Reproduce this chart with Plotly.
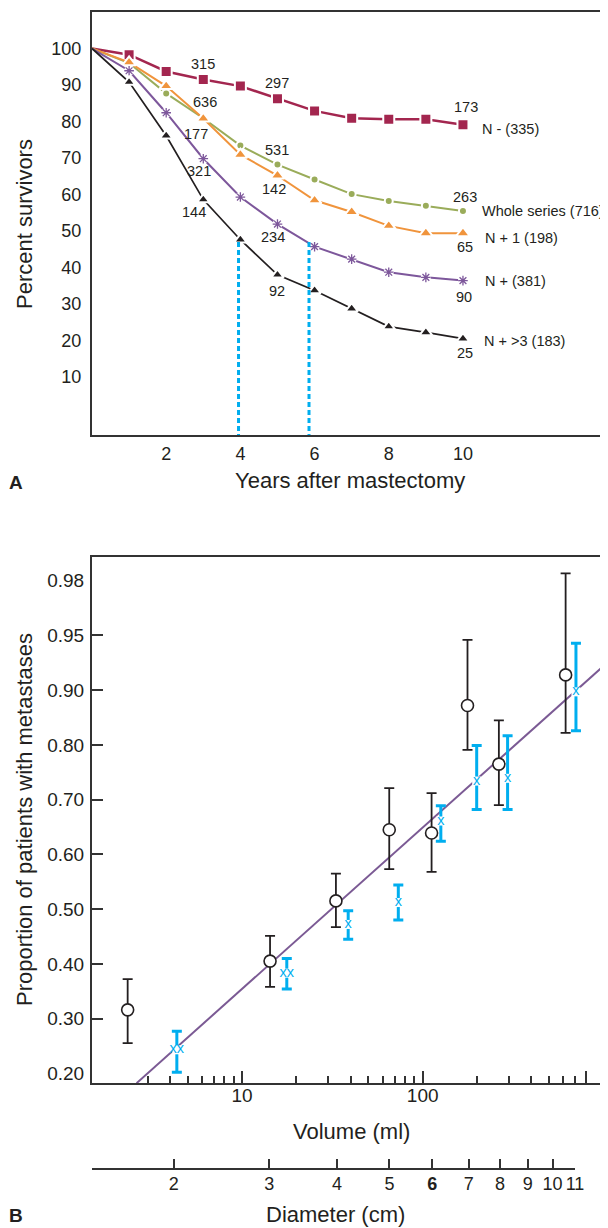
import numpy as np
import plotly.graph_objects as go

FONT = "Liberation Sans, Arial, Helvetica, sans-serif"
INK = "#231f20"
AXIS = "#333333"
CYAN = "#00aeef"

# ---------------- A: survival after mastectomy ----------------
years = [0, 1, 2, 3, 4, 5, 6, 7, 8, 9, 10]
n_neg = [100, 98.3, 93.7, 91.5, 89.7, 86.2, 82.9, 80.9, 80.6, 80.6, 79.1]
whole = [100, 96.0, 87.7, 80.9, 73.4, 68.2, 64.1, 60.1, 58.2, 56.9, 55.5]
n_pos1 = [100, 96.2, 89.7, 80.8, 70.9, 65.2, 58.4, 55.2, 51.4, 49.4, 49.4]
n_pos = [100, 93.9, 82.4, 69.8, 59.3, 51.9, 45.7, 42.3, 38.7, 37.3, 36.4]
n_pos3 = [100, 90.8, 76.1, 58.6, 47.6, 38.0, 33.7, 28.7, 23.8, 22.2, 20.5]

# patients still at risk, shown at years 3, 5 and 10
risk_years = [3, 5, 10]
n_neg_risk = [315, 297, 173]
whole_risk = [636, 531, 263]
n_pos1_risk = [177, 142, 65]
n_pos_risk = [321, 234, 90]
n_pos3_risk = [144, 92, 25]

series_labels = ["N - (335)", "Whole series (716)", "N + 1 (198)", "N + (381)", "N + >3 (183)"]
median_years = [3.95, 5.85]
median_level = 47
y_ticks_a = [10, 20, 30, 40, 50, 60, 70, 80, 90, 100]
x_ticks_a = [2, 4, 6, 8, 10]

# ---------------- B: metastases vs tumour size ----------------
volume_obs = [2.33, 14.3, 33.1, 65.3, 112, 177, 264, 618]
prop_obs = [0.316, 0.405, 0.515, 0.645, 0.639, 0.872, 0.765, 0.914]
prop_obs_hi = [0.372, 0.451, 0.565, 0.721, 0.712, 0.946, 0.845, 0.984]
prop_obs_lo = [0.255, 0.358, 0.467, 0.573, 0.568, 0.791, 0.690, 0.822]

volume_pred = [4.36, 17.7, 38.7, 73.3, 126, 199, 295, 705]
prop_pred = [0.243, 0.383, 0.472, 0.512, 0.661, 0.734, 0.739, 0.897]
prop_pred_hi = [0.277, 0.410, 0.497, 0.544, 0.689, 0.799, 0.817, 0.943]
prop_pred_lo = [0.202, 0.354, 0.445, 0.480, 0.624, 0.682, 0.682, 0.826]
pred_marks = ["xx", "xx", "x", "x", "x", "x", "x", "x"]

fit_volume = [2.61, 1064]
fit_prop = [0.182, 0.926]

prop_ticks = [0.20, 0.30, 0.40, 0.50, 0.60, 0.70, 0.80, 0.90, 0.95, 0.98]
prop_tick_text = ["0.20", "0.30", "0.40", "0.50", "0.60", "0.70", "0.80", "0.90", "0.95", "0.98"]
volume_ticks = [10, 100, 800]
volume_tick_text = ["10", "100", ""]
volume_minor = [3, 4, 5, 6, 7, 8, 9, 20, 30, 40, 50, 60, 70, 80, 90, 200, 300, 400, 500, 600, 700]
diameter_cm = [2, 3, 4, 5, 6, 7, 8, 9, 10, 11]


def prob_pos(p):
    # the proportion axis is drawn with evenly spaced labelled values
    p = np.asarray(p, dtype=float)
    idx = np.arange(len(prop_ticks), dtype=float)
    pos = np.interp(p, prop_ticks, idx)
    lo = p < prop_ticks[0]
    pos[lo] = (p[lo] - prop_ticks[0]) / (prop_ticks[1] - prop_ticks[0])
    hi = p > prop_ticks[-1]
    pos[hi] = idx[-1] + (p[hi] - prop_ticks[-1]) / (prop_ticks[-1] - prop_ticks[-2])
    return pos


# the page body keeps its default 8px margin, so the figure is 8px smaller
OFF = 8
W, H = 608 - OFF, 1228 - OFF


def py(pix):
    return 1 - (pix - OFF) / H


def px(pix):
    return (pix - 92) / 516.0


fig = go.Figure()

# --- panel A ---
styles = [
    (n_neg, "#a3264f", "square", 11, 2.5, n_neg_risk, [(0, 16), (0, 16), (3, 18)], (17, -4)),
    (whole, "#9aac5a", "circle", 8, 2.0, whole_risk, [(2, 16), (0, 15), (2, 14)], (17, 0)),
    (n_pos1, "#f0943c", "triangle-up", 12, 2.0, n_pos1_risk, [(-7, -15), (-3, -13), (2, -14)], (20, -5)),
    (n_pos, "#7d579b", "asterisk-open", 8, 2.0, n_pos_risk, [(-4, -12), (-4, -13), (1, -16)], (20, 0)),
    (n_pos3, INK, "triangle-up", 11, 1.7, n_pos3_risk, [(-9, -12), (0, -16), (2, -14)], (19, -2)),
]

for (vals, col, sym, size, lw, risk, offs, lab_off), name in zip(styles, series_labels):
    op = [0] + [1] * (len(years) - 1)
    if sym == "asterisk-open":
        fig.add_trace(go.Scatter(
            x=years, y=vals, mode="lines+markers", line=dict(color=col, width=lw),
            marker=dict(symbol="circle", size=10, color="white", opacity=op),
            showlegend=False, hoverinfo="skip"))
        fig.add_trace(go.Scatter(
            x=years, y=vals, mode="markers",
            marker=dict(symbol=sym, size=size, color=col, opacity=op,
                        line=dict(color=col, width=1.3)),
            showlegend=False, hoverinfo="skip"))
    else:
        fig.add_trace(go.Scatter(
            x=years, y=vals, mode="lines+markers", line=dict(color=col, width=lw),
            marker=dict(symbol=sym, size=size, color=col, opacity=op,
                        line=dict(color="white", width=2)),
            showlegend=False, hoverinfo="skip"))
    for yr, n, (dx, dy) in zip(risk_years, risk, offs):
        fig.add_annotation(x=yr, y=vals[years.index(yr)], xref="x", yref="y",
                           text=str(n), showarrow=False, xshift=dx, yshift=dy,
                           xanchor="center", yanchor="middle",
                           font=dict(family=FONT, size=14.5, color=INK))
    fig.add_annotation(x=years[-1], y=vals[-1], xref="x", yref="y", text=name,
                       showarrow=False, xanchor="left", yanchor="middle",
                       xshift=lab_off[0], yshift=lab_off[1],
                       font=dict(family=FONT, size=14.5, color=INK))

for yr in median_years:
    fig.add_trace(go.Scatter(x=[yr, yr], y=[median_level, -6], mode="lines",
                             line=dict(color=CYAN, width=3, dash="5px,3px"),
                             showlegend=False, hoverinfo="skip"))

# --- panel B ---
fig.add_trace(go.Scatter(x=fit_volume, y=prob_pos(fit_prop), xaxis="x2", yaxis="y2",
                         mode="lines", line=dict(color="#7b5a94", width=2),
                         showlegend=False, hoverinfo="skip"))

pos_obs = prob_pos(prop_obs)
fig.add_trace(go.Scatter(
    x=volume_obs, y=pos_obs, xaxis="x2", yaxis="y3", mode="markers",
    marker=dict(symbol="circle", size=12, color="white", line=dict(color=INK, width=1.6)),
    error_y=dict(type="data", symmetric=False,
                 array=prob_pos(prop_obs_hi) - pos_obs,
                 arrayminus=pos_obs - prob_pos(prop_obs_lo),
                 color=INK, thickness=1.8, width=5),
    showlegend=False, hoverinfo="skip"))

pos_pred = prob_pos(prop_pred)
fig.add_trace(go.Scatter(
    x=volume_pred, y=pos_pred, xaxis="x2", yaxis="y3", mode="markers+text",
    text=pred_marks, textposition="middle center",
    textfont=dict(family=FONT, size=14.5, color=CYAN),
    marker=dict(symbol="square", size=9, color="white"),
    error_y=dict(type="data", symmetric=False,
                 array=prob_pos(prop_pred_hi) - pos_pred,
                 arrayminus=pos_pred - prob_pos(prop_pred_lo),
                 color=CYAN, thickness=3, width=5),
    showlegend=False, hoverinfo="skip"))

diam_volume = np.pi / 6 * np.array(diameter_cm, dtype=float) ** 3
fig.add_trace(go.Scatter(x=diam_volume, y=[0.5] * len(diameter_cm), xaxis="x3", yaxis="y4",
                         mode="markers", marker=dict(opacity=0), showlegend=False,
                         hoverinfo="skip"))

tick_font = dict(family=FONT, size=18, color=INK)
lo_log, hi_log = 0.170, 3.0255
common = dict(automargin=False, showgrid=False, zeroline=False)

fig.update_layout(
    template="none",
    width=W, height=H,
    margin=dict(l=92 - OFF, r=0, t=0, b=0, pad=0),
    paper_bgcolor="white", plot_bgcolor="rgba(0,0,0,0)",
    font=dict(family=FONT, color=INK),
    xaxis=dict(domain=[0, 1], range=[0, 13.91], anchor="y",
               showline=True, mirror=True, linecolor=AXIS, linewidth=2, ticks="",
               tickmode="array", tickvals=x_ticks_a, tickfont=tick_font,
               ticklabelstandoff=1, **common),
    yaxis=dict(domain=[py(435), py(12)], range=[-5.9, 110], anchor="x",
               showline=True, linecolor=AXIS, linewidth=2, ticks="",
               tickmode="array", tickvals=y_ticks_a, tickfont=tick_font,
               ticklabelstandoff=5, **common),
    xaxis2=dict(domain=[0, 1], type="log", range=[lo_log, hi_log], anchor="y2",
                showline=True, mirror=True, linecolor=AXIS, linewidth=2,
                ticks="inside", ticklen=12, tickwidth=2, tickcolor=AXIS,
                tickmode="array", tickvals=volume_ticks, ticktext=volume_tick_text,
                tickfont=dict(family=FONT, size=19, color=INK), ticklabelstandoff=-6,
                minor=dict(tickmode="array", tickvals=volume_minor, ticks="inside",
                           ticklen=7, tickwidth=2, tickcolor=AXIS, showgrid=False),
                **common),
    yaxis2=dict(domain=[py(1083), py(557)], range=[-0.177, 9.434], anchor="x2",
                showline=True, linecolor=AXIS, linewidth=2, ticks="",
                tickmode="array", tickvals=list(range(len(prop_ticks))),
                ticktext=prop_tick_text,
                tickfont=dict(family=FONT, size=19, color=INK), ticklabelstandoff=2,
                **common),
    yaxis3=dict(overlaying="y2", anchor="x2", range=[-0.177, 9.434], side="left",
                showline=False, showticklabels=False,
                ticks="inside", ticklen=11, tickwidth=2, tickcolor=AXIS,
                tickmode="array", tickvals=list(range(1, len(prop_ticks) - 1)), **common),
    xaxis3=dict(domain=[0, (np.log10(diam_volume[-1]) - lo_log) * 180.7 / 516], type="log",
                range=[lo_log, np.log10(diam_volume[-1])], anchor="y4",
                showline=True, linecolor=AXIS, linewidth=2,
                ticks="inside", ticklen=9, tickwidth=2, tickcolor=AXIS,
                tickmode="array", tickvals=diam_volume,
                ticktext=[("<b>%d</b>" if d == 6 else "%d") % d for d in diameter_cm],
                tickfont=tick_font, ticklabelstandoff=-2, **common),
    yaxis4=dict(domain=[py(1168), py(1150)], range=[0, 1], visible=False, anchor="x3",
                **common),
)

title_font = dict(family=FONT, size=22, color=INK)
titles = [
    ("Years after mastectomy", 350, 480, 0),
    ("Percent survivors", 24, 224, -90),
    ("Volume (ml)", 351, 1131, 0),
    ("Diameter (cm)", 335, 1214, 0),
    ("Proportion of patients with metastases", 24, 820, -90),
]
for txt, x0, y0, ang in titles:
    fig.add_annotation(x=px(x0), y=py(y0), xref="paper", yref="paper", text=txt,
                       textangle=ang, showarrow=False, xanchor="center", yanchor="middle",
                       font=title_font)
for txt, y0 in [("<b>A</b>", 482), ("<b>B</b>", 1215)]:
    fig.add_annotation(x=px(16), y=py(y0), xref="paper", yref="paper", text=txt,
                       showarrow=False, xanchor="center", yanchor="middle",
                       font=dict(family=FONT, size=19, color=INK))

fig.write_html("out.html")
